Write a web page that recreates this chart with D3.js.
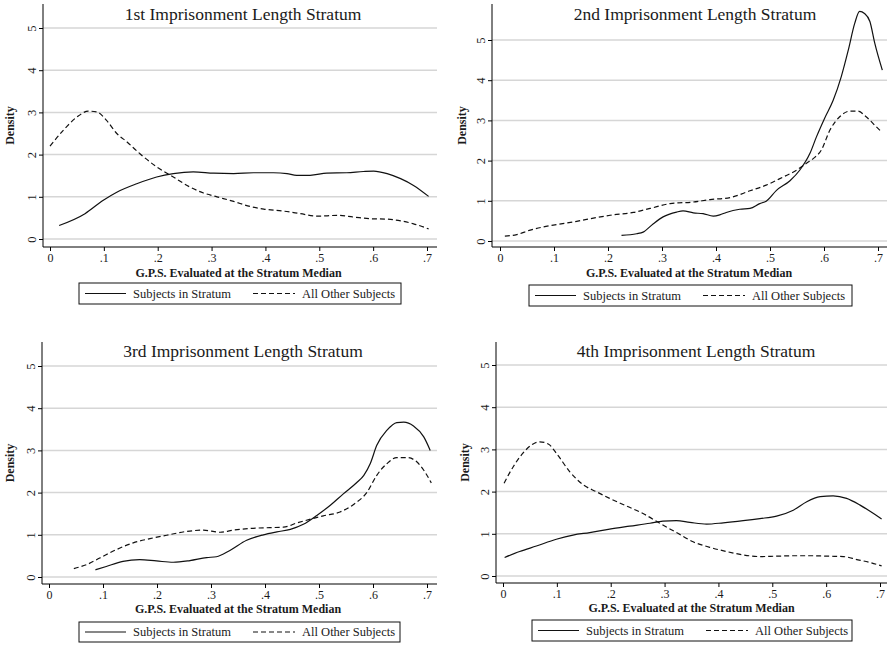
<!DOCTYPE html>
<html>
<head>
<meta charset="utf-8">
<script src="https://cdn.jsdelivr.net/npm/d3@7"></script>
<style>
  body { margin: 0; background: #fff; }
  text { font-family: "Liberation Serif", "DejaVu Serif", serif; fill: #1a1a1a; }
</style>
</head>
<body>
<svg id="chart" width="887" height="647"></svg>
<script>
// panel titles and legend labels
const titles = [
  "1st Imprisonment Length Stratum",
  "2nd Imprisonment Length Stratum",
  "3rd Imprisonment Length Stratum",
  "4th Imprisonment Length Stratum"
];
const seriesNames = ["Subjects in Stratum", "All Other Subjects"];
const xTicks = [0, 0.1, 0.2, 0.3, 0.4, 0.5, 0.6, 0.7];
const yTicks = [0, 1, 2, 3, 4, 5];

// density curves: [gps, density]
const in1 = [[.017,.32],[.065,.60],[.099,.92],[.124,1.11],[.161,1.31],[.198,1.47],[.229,1.55],[.266,1.59],[.304,1.56],[.341,1.55],[.378,1.57],[.415,1.57],[.44,1.55],[.458,1.51],[.483,1.51],[.514,1.56],[.551,1.57],[.582,1.60],[.601,1.61],[.626,1.55],[.651,1.43],[.675,1.27],[.703,1.01]];
const other1 = [[0,2.2],[.025,2.58],[.05,2.89],[.071,3.03],[.087,3.01],[.105,2.81],[.124,2.5],[.143,2.30],[.167,2.02],[.198,1.71],[.229,1.47],[.26,1.23],[.285,1.09],[.31,1.0],[.341,.89],[.372,.77],[.397,.71],[.434,.66],[.465,.60],[.496,.54],[.533,.56],[.564,.52],[.595,.48],[.626,.47],[.651,.43],[.675,.36],[.703,.24]];

const in2 = [[.225,.14],[.253,.18],[.265,.22],[.284,.43],[.302,.60],[.327,.72],[.339,.75],[.358,.70],[.376,.68],[.395,.62],[.407,.65],[.419,.71],[.444,.79],[.463,.81],[.481,.93],[.493,.99],[.512,1.26],[.537,1.50],[.555,1.76],[.574,2.18],[.586,2.59],[.601,3.05],[.617,3.5],[.632,4.09],[.645,4.75],[.657,5.42],[.666,5.71],[.675,5.66],[.685,5.46],[.694,4.92],[.708,4.25]];
const other2 = [[.009,.12],[.031,.16],[.056,.27],[.080,.35],[.105,.41],[.142,.49],[.173,.57],[.204,.64],[.247,.71],[.278,.81],[.315,.93],[.358,.97],[.389,1.03],[.426,1.08],[.463,1.25],[.493,1.39],[.524,1.59],[.549,1.76],[.567,1.93],[.580,2.05],[.595,2.26],[.611,2.76],[.629,3.09],[.648,3.23],[.663,3.23],[.678,3.09],[.697,2.84],[.706,2.72]];

const in3 = [[.086,.17],[.106,.25],[.137,.37],[.168,.41],[.199,.38],[.230,.35],[.261,.39],[.292,.46],[.31,.48],[.335,.63],[.366,.87],[.397,1.0],[.422,1.07],[.447,1.13],[.471,1.25],[.496,1.46],[.521,1.70],[.545,1.97],[.570,2.24],[.583,2.41],[.595,2.69],[.607,3.12],[.626,3.48],[.644,3.66],[.657,3.67],[.675,3.58],[.694,3.32],[.706,3.0]];
const other3 = [[.046,.20],[.069,.29],[.094,.45],[.125,.65],[.156,.81],[.187,.91],[.218,.99],[.255,1.08],[.286,1.11],[.317,1.06],[.341,1.11],[.372,1.15],[.409,1.17],[.434,1.18],[.459,1.28],[.484,1.37],[.508,1.45],[.539,1.54],[.564,1.72],[.589,2.01],[.607,2.41],[.626,2.69],[.644,2.83],[.663,2.83],[.681,2.73],[.694,2.53],[.708,2.23]];

const in4 = [[.003,.44],[.031,.58],[.062,.71],[.099,.87],[.130,.97],[.161,1.03],[.198,1.11],[.235,1.18],[.273,1.25],[.297,1.30],[.322,1.31],[.347,1.27],[.378,1.23],[.409,1.26],[.446,1.31],[.477,1.36],[.508,1.42],[.539,1.56],[.564,1.76],[.589,1.88],[.613,1.90],[.638,1.84],[.663,1.68],[.688,1.48],[.703,1.35]];
const other4 = [[.002,2.20],[.019,2.59],[.037,2.91],[.056,3.13],[.068,3.18],[.084,3.13],[.099,2.91],[.124,2.47],[.149,2.16],[.173,2.0],[.198,1.84],[.229,1.66],[.260,1.48],[.291,1.25],[.322,1.03],[.353,.81],[.384,.68],[.415,.58],[.446,.50],[.477,.46],[.508,.47],[.539,.48],[.570,.48],[.601,.47],[.632,.46],[.657,.39],[.681,.32],[.703,.24]];

const inStratum = [in1, in2, in3, in4];
const allOther = [other1, other2, other3, other4];

// pixel layout of each panel
const panels = [
  { axisX: 43,  top: 4,   y0: 239, y5: 28,  axisY: 247, xa: 50,  xb: 427, right: 437, cx: 243, titleY: 20,  labelY: 277, leg: [79, 283, 322, 21],  densX: 14 },
  { axisX: 492, top: 4,   y0: 241, y5: 40,  axisY: 247, xa: 500, xb: 878, right: 887, cx: 695, titleY: 20,  labelY: 277, leg: [529, 285, 323, 21], densX: 466 },
  { axisX: 42,  top: 342, y0: 577, y5: 366, axisY: 584, xa: 49,  xb: 427, right: 437, cx: 243, titleY: 357, labelY: 613, leg: [79, 622, 321, 20],  densX: 14 },
  { axisX: 496, top: 342, y0: 576, y5: 365, axisY: 583, xa: 503, xb: 880, right: 887, cx: 696, titleY: 357, labelY: 612, leg: [532, 620, 320, 21], densX: 469 }
];

const svg = d3.select("#chart");
const fmt = d => d === 0 ? "0" : d3.format(".1f")(d).replace(/^0/, "");

panels.forEach((p, i) => {
  const x = d3.scaleLinear().domain([0, 0.7]).range([p.xa, p.xb]);
  const y = d3.scaleLinear().domain([0, 5]).range([p.y0, p.y5]);
  const g = svg.append("g");

  // gridlines
  g.selectAll("line.grid")
    .data(yTicks).enter()
    .append("line")
    .attr("class", "grid")
    .attr("x1", p.axisX).attr("x2", p.right)
    .attr("y1", d => y(d)).attr("y2", d => y(d))
    .style("stroke", "#d6d6d6")
    .style("stroke-width", 1.5);

  // y axis
  const ya = g.append("g")
    .attr("transform", `translate(${p.axisX},0)`)
    .call(d3.axisLeft(y).tickValues(yTicks).tickSize(4).tickFormat(d3.format("d")));
  ya.select(".domain").remove();
  ya.append("line").attr("y1", p.top).attr("y2", p.axisY).style("stroke", "#000");
  ya.selectAll(".tick line").style("stroke", "#000");
  ya.selectAll(".tick text")
    .attr("x", null).attr("dy", "0.35em")
    .attr("transform", "translate(-11,0) rotate(-90)")
    .attr("text-anchor", "middle")
    .style("font-family", "Liberation Serif")
    .style("font-size", "12.5px")
    .style("fill", "#1a1a1a");

  // x axis
  const xa = g.append("g")
    .attr("transform", `translate(0,${p.axisY})`)
    .call(d3.axisBottom(x).tickValues(xTicks).tickSize(4).tickPadding(2).tickFormat(fmt));
  xa.select(".domain").remove();
  xa.append("line").attr("x1", p.axisX).attr("x2", p.right).style("stroke", "#000");
  xa.selectAll(".tick line").style("stroke", "#000");
  xa.selectAll(".tick text")
    .style("font-family", "Liberation Serif")
    .style("font-size", "12px")
    .style("fill", "#1a1a1a");

  // curves
  const line = d3.line().x(d => x(d[0])).y(d => y(d[1])).curve(d3.curveMonotoneX);
  g.append("path").datum(inStratum[i])
    .attr("d", line)
    .style("fill", "none").style("stroke", "#111").style("stroke-width", 1.2);
  g.append("path").datum(allOther[i])
    .attr("d", line)
    .style("fill", "none").style("stroke", "#111").style("stroke-width", 1.2)
    .style("stroke-dasharray", "5,3");

  // title
  g.append("text")
    .attr("x", p.cx).attr("y", p.titleY)
    .attr("text-anchor", "middle")
    .style("font-size", "17.5px")
    .text(titles[i]);

  // axis titles
  g.append("text")
    .attr("x", (p.xa + p.xb) / 2).attr("y", p.labelY)
    .attr("text-anchor", "middle")
    .style("font-size", "12px").style("font-weight", "bold")
    .text("G.P.S. Evaluated at the Stratum Median");
  g.append("text")
    .attr("transform", `translate(${p.densX},${(p.top + p.axisY) / 2}) rotate(-90)`)
    .attr("text-anchor", "middle")
    .style("font-size", "12px").style("font-weight", "bold")
    .text("Density");

  // legend
  const [lx, ly, lw, lh] = p.leg;
  const lg = g.append("g").attr("transform", `translate(${lx},${ly})`);
  lg.append("rect").attr("width", lw).attr("height", lh)
    .style("fill", "#fff").style("stroke", "#111").style("stroke-width", 1);
  const items = [
    { name: seriesNames[0], x1: 6, x2: 47, tx: 54, dash: null },
    { name: seriesNames[1], x1: 174, x2: 216, tx: 223, dash: "5,3" }
  ];
  items.forEach(it => {
    lg.append("line")
      .attr("x1", it.x1).attr("x2", it.x2)
      .attr("y1", lh / 2).attr("y2", lh / 2)
      .style("stroke", "#111").style("stroke-width", 1.2)
      .style("stroke-dasharray", it.dash);
    lg.append("text")
      .attr("x", it.tx).attr("y", lh / 2).attr("dy", "0.35em")
      .style("font-size", "12.5px")
      .text(it.name);
  });
});
</script>
</body>
</html>
